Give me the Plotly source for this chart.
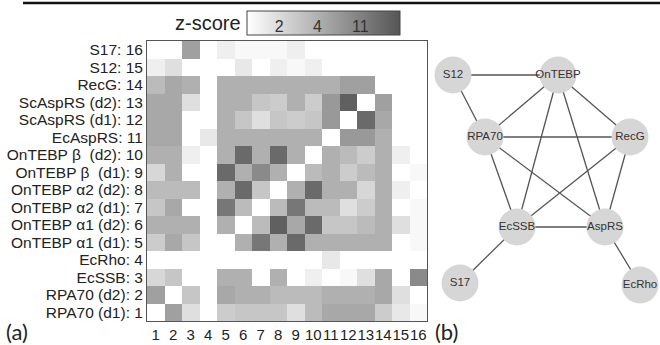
import numpy as np
import plotly.graph_objects as go

# ---------------- data ----------------
row_labels = ["RPA70 (d1): 1", "RPA70 (d2): 2", "EcSSB: 3", "EcRho: 4",
              "OnTEBP α1 (d1): 5", "OnTEBP α1 (d2): 6", "OnTEBP α2 (d1): 7",
              "OnTEBP α2 (d2): 8", "OnTEBP β  (d1): 9", "OnTEBP β  (d2): 10",
              "EcAspRS: 11", "ScAspRS (d1): 12", "ScAspRS (d2): 13",
              "RecG: 14", "S12: 15", "S17: 16"]
col_labels = [str(i) for i in range(1, 17)]
idx = list(range(1, 17))

# z-scores, rows 1..16 (bottom to top), columns 1..16
zscores = [
    [0, 6.5, 1.8, 0, 2.7, 3.0, 3.0, 3.0, 1.8, 3.5, 5.3, 5.3, 5.3, 2.7, 1.3, 0.4],
    [6.5, 0, 3.0, 0, 5.3, 4.1, 4.1, 3.5, 3.5, 3.5, 4.1, 4.1, 4.1, 5.3, 1.8, 0],
    [2.2, 3.0, 0, 0, 4.1, 4.1, 0, 4.1, 0, 0.9, 0, 0.4, 1.8, 5.3, 0, 9.7],
    [0, 0, 0, 0, 0, 0, 0, 0, 0, 0, 1.3, 0, 0, 0, 0, 0],
    [2.7, 5.3, 3.0, 0, 0, 4.1, 13.0, 4.1, 15.7, 4.1, 4.1, 4.1, 4.1, 4.1, 0, 0.4],
    [4.1, 4.1, 4.1, 0, 4.1, 0, 3.5, 17.8, 5.3, 15.7, 3.0, 3.0, 3.5, 4.1, 1.8, 0.4],
    [3.0, 5.3, 0, 0, 13.0, 3.5, 0, 3.5, 13.0, 3.5, 3.5, 1.8, 2.7, 4.1, 0, 0.4],
    [3.5, 3.5, 3.5, 0, 4.1, 15.7, 3.0, 0, 4.1, 15.7, 4.1, 4.1, 2.2, 4.1, 0.9, 0],
    [2.2, 4.1, 0, 0, 15.7, 4.1, 9.7, 4.1, 0, 3.5, 4.1, 2.7, 3.5, 4.1, 0, 0.4],
    [4.1, 4.1, 0.9, 0, 4.1, 15.7, 4.1, 15.7, 4.1, 0, 4.1, 3.5, 2.7, 4.1, 0.9, 0],
    [5.3, 5.3, 0, 1.3, 4.1, 4.1, 4.1, 4.1, 4.1, 4.1, 0, 7.5, 7.5, 4.1, 0, 0],
    [5.3, 5.3, 0, 0, 4.1, 3.0, 1.8, 3.0, 2.7, 3.0, 7.5, 0, 15.7, 5.3, 0, 0],
    [5.3, 5.3, 1.8, 0, 4.1, 4.1, 3.0, 2.7, 4.1, 2.7, 7.5, 17.8, 0, 6.5, 0, 0],
    [3.5, 5.3, 4.1, 0, 4.1, 4.1, 4.1, 4.1, 4.1, 4.1, 4.1, 6.5, 6.5, 0, 0, 0],
    [0.9, 1.8, 0, 0, 0, 1.3, 0, 0.9, 0.4, 0.9, 0, 0, 0, 0, 0, 0],
    [0, 0, 6.5, 0, 0.9, 0.4, 0.4, 0.4, 0.9, 0, 0, 0, 0, 0, 0, 0],
]

# colour-bar scale (non-linear z-score axis)
cbar_ticks = [2, 4, 11]
z_anchor = [0, 2, 4, 11, 20]
p_anchor = [0, 0.21, 0.46, 0.74, 1.0]

# network (panel b)
node_names = ["S12", "OnTEBP", "RPA70", "RecG", "EcSSB", "AspRS", "S17", "EcRho"]
node_x = [24, 129, 56, 201, 88, 176, 31, 211]
node_y = [75, 75, 137, 137, 227, 227, 283, 285]
edges = [("S12", "OnTEBP"), ("S12", "RPA70"), ("OnTEBP", "RPA70"),
         ("OnTEBP", "RecG"), ("OnTEBP", "EcSSB"), ("OnTEBP", "AspRS"),
         ("RPA70", "RecG"), ("RPA70", "EcSSB"), ("RPA70", "AspRS"),
         ("RecG", "EcSSB"), ("RecG", "AspRS"), ("EcSSB", "AspRS"),
         ("EcSSB", "S17"), ("AspRS", "EcRho")]

# ---------------- figure ----------------
W, H = 660, 345
FONT = "Liberation Sans, Arial, Helvetica, sans-serif"

zpos = np.interp(np.array(zscores), z_anchor, p_anchor)
tickpos = list(np.interp(cbar_ticks, z_anchor, p_anchor))

fig = go.Figure()
fig.add_trace(go.Heatmap(
    x=idx, y=idx, z=zpos, zmin=0, zmax=1,
    colorscale=[[0, "#ffffff"], [1, "#555555"]],
    hoverinfo="skip",
    colorbar=dict(
        orientation="h", x=247 / W, xanchor="left", y=1 - 11 / H, yanchor="top",
        len=153, lenmode="pixels", thickness=24, thicknessmode="pixels",
        outlinewidth=1, outlinecolor="#444", xpad=0, ypad=0,
        tickvals=tickpos, ticktext=[str(t) for t in cbar_ticks],
        ticklabelposition="inside", ticks="",
        tickfont=dict(size=16, color="#333", family=FONT),
    ),
))

pos = {n: (x, y) for n, x, y in zip(node_names, node_x, node_y)}
ex, ey = [], []
for a, b in edges:
    ex += [pos[a][0], pos[b][0], None]
    ey += [pos[a][1], pos[b][1], None]
fig.add_trace(go.Scatter(x=ex, y=ey, mode="lines", xaxis="x2", yaxis="y2",
                         line=dict(color="#555555", width=1.3),
                         hoverinfo="skip", showlegend=False, cliponaxis=False))
fig.add_trace(go.Scatter(x=node_x, y=node_y, text=node_names, mode="markers+text",
                         xaxis="x2", yaxis="y2", textposition="middle center",
                         marker=dict(size=37, color="#d6d6d6", line=dict(width=0)),
                         textfont=dict(size=11.5, color="#333", family=FONT),
                         hoverinfo="skip", showlegend=False, cliponaxis=False))

fig.update_layout(
    width=W, height=H, margin=dict(l=0, r=0, t=0, b=0, autoexpand=False),
    paper_bgcolor="white", plot_bgcolor="white",
    font=dict(family=FONT, color="#222"),
    showlegend=False,
    xaxis=dict(domain=[147 / W, 427 / W], range=[0.5, 16.5], automargin=False,
               tickvals=idx, ticktext=col_labels, tickfont=dict(size=15),
               tickangle=0,
               showline=True, linecolor="#555", linewidth=1, mirror=True,
               showgrid=False, zeroline=False, ticks=""),
    yaxis=dict(domain=[1 - 321 / H, 1 - 41 / H], range=[0.5, 16.5], automargin=False,
               tickvals=idx, ticktext=row_labels, tickfont=dict(size=15.5),
               showline=True, linecolor="#555", linewidth=1, mirror=True,
               showgrid=False, zeroline=False, ticks=""),
    xaxis2=dict(domain=[429 / W, 1], range=[0, 231], visible=False, fixedrange=True),
    yaxis2=dict(domain=[0, 1], range=[345, 0], visible=False, fixedrange=True),
    shapes=[dict(type="line", xref="paper", yref="paper",
                 x0=23 / W, x1=1, y0=1 - 3 / H, y1=1 - 3 / H,
                 line=dict(color="#111", width=2.5))],
    annotations=[
        dict(text="z-score", x=243 / W, y=1 - 23 / H, xref="paper", yref="paper",
             xanchor="right", yanchor="middle", showarrow=False,
             font=dict(size=20, color="#222")),
        dict(text="(a)", x=4 / W, y=1 - 331 / H, xref="paper", yref="paper",
             xanchor="left", yanchor="middle", showarrow=False,
             font=dict(size=22, color="#222", family="Lato, sans-serif")),
        dict(text="(b)", x=433 / W, y=1 - 331 / H, xref="paper", yref="paper",
             xanchor="left", yanchor="middle", showarrow=False,
             font=dict(size=22, color="#222", family="Lato, sans-serif")),
    ],
)

fig.write_html(
    "out.html",
    config={"displayModeBar": False},
    post_script="document.body.style.margin='0';document.body.style.overflow='hidden';",
)
